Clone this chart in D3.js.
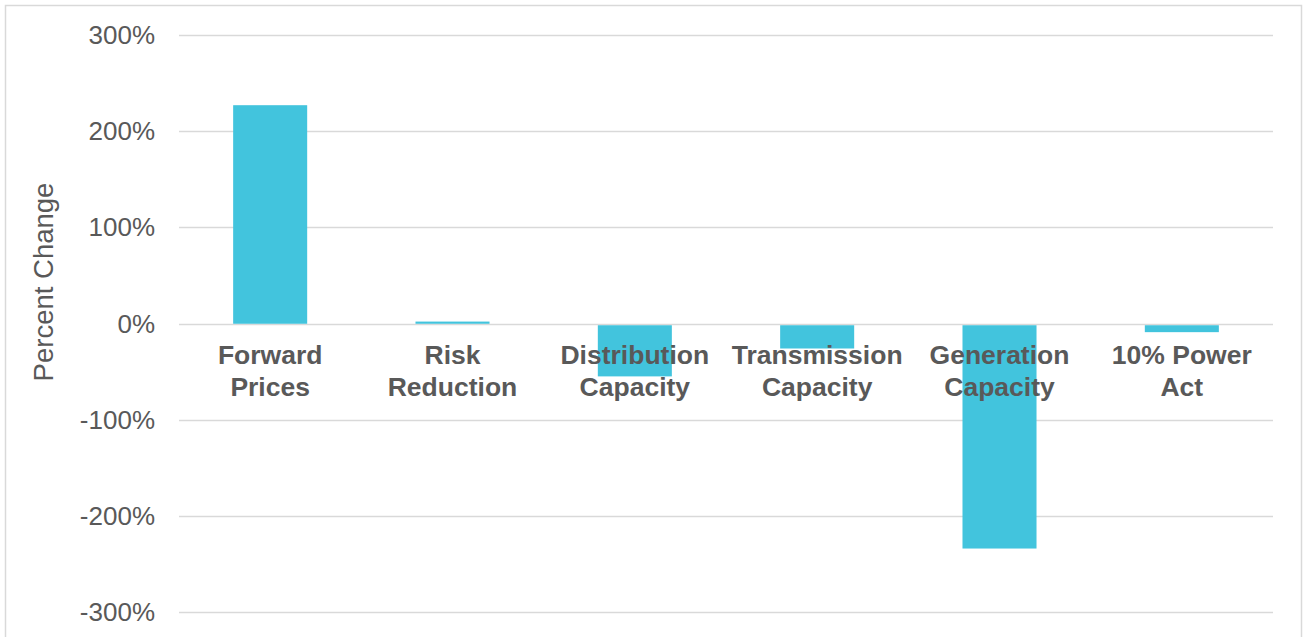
<!DOCTYPE html>
<html>
<head>
<meta charset="utf-8">
<script src="https://cdn.jsdelivr.net/npm/d3@7"></script>
<style>
  html, body { margin: 0; padding: 0; background: #fff; }
  svg { display: block; font-family: "Liberation Sans", Arial, sans-serif; }
</style>
</head>
<body>
<svg id="chart" width="1303" height="637"></svg>
<script>
// Category labels (two lines each) and percent change values
const categories = [
  ["Forward", "Prices"],
  ["Risk", "Reduction"],
  ["Distribution", "Capacity"],
  ["Transmission", "Capacity"],
  ["Generation", "Capacity"],
  ["10% Power", "Act"]
];
const values = [227, 2, -55, -26, -234, -9];
const yTicks = [300, 200, 100, 0, -100, -200, -300];

const svg = d3.select("#chart");

// outer frame
svg.append("rect")
  .attr("x", 5.5).attr("y", 5.5)
  .attr("width", 1296).attr("height", 700)
  .attr("fill", "none")
  .attr("stroke", "#d9d9d9")
  .attr("stroke-width", 1.5);

const plot = { left: 179, right: 1273 };

const y = d3.scaleLinear().domain([-300, 300]).range([612, 35]);
const x = d3.scaleBand()
  .domain(categories.map((d, i) => i))
  .range([plot.left, plot.right])
  .paddingInner(0.594)
  .paddingOuter(0.297);

// gridlines
svg.append("g")
  .selectAll("line")
  .data(yTicks)
  .join("line")
  .attr("x1", plot.left).attr("x2", plot.right)
  .attr("y1", d => Math.round(y(d)) + 0.5)
  .attr("y2", d => Math.round(y(d)) + 0.5)
  .attr("stroke", "#d9d9d9")
  .attr("stroke-width", 1.5);

// y tick labels
svg.append("g")
  .selectAll("text")
  .data(yTicks)
  .join("text")
  .attr("x", 155)
  .attr("y", d => y(d))
  .attr("dy", "0.35em")
  .attr("text-anchor", "end")
  .attr("fill", "#595959")
  .attr("font-size", 26)
  .text(d => d + "%");

// bars, starting just off the zero line
const zero = Math.round(y(0)) + 0.5;
svg.append("g")
  .selectAll("rect")
  .data(values)
  .join("rect")
  .attr("x", (d, i) => x(i))
  .attr("width", x.bandwidth())
  .attr("y", d => d >= 0 ? y(d) : zero + 0.75)
  .attr("height", d => d >= 0 ? Math.max(0, zero - 0.75 - y(d)) : Math.max(0, y(d) - zero - 0.75))
  .attr("fill", "#42c4dd");

// category labels
const catG = svg.append("g")
  .selectAll("text")
  .data(categories)
  .join("text")
  .attr("x", (d, i) => x(i) + x.bandwidth() / 2)
  .attr("y", 364)
  .attr("text-anchor", "middle")
  .attr("fill", "#595959")
  .attr("font-size", 26.5)
  .attr("font-weight", "bold");
catG.selectAll("tspan")
  .data(d => d)
  .join("tspan")
  .attr("x", function () { return d3.select(this.parentNode).attr("x"); })
  .attr("dy", (d, i) => i === 0 ? 0 : 32)
  .text(d => d);

// y axis title
svg.append("text")
  .attr("transform", "translate(53,282) rotate(-90)")
  .attr("text-anchor", "middle")
  .attr("fill", "#595959")
  .attr("font-size", 27.5)
  .text("Percent Change");
</script>
</body>
</html>
